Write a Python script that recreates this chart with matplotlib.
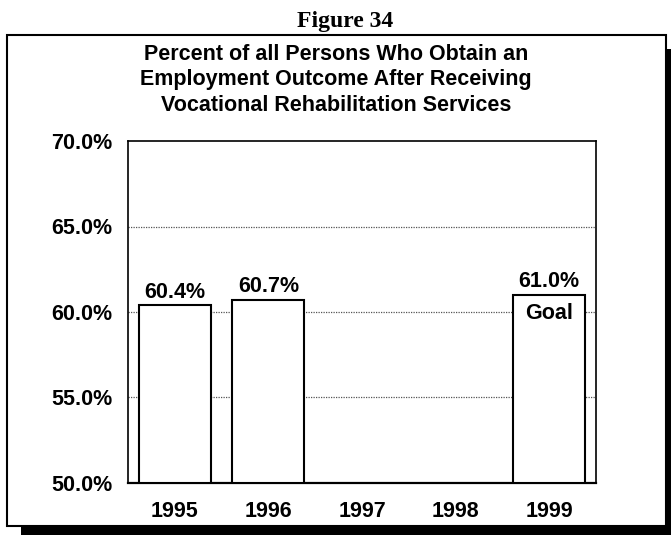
import matplotlib.pyplot as plt
from matplotlib.patches import Rectangle
import numpy as np

years = ['1995', '1996', '1997', '1998', '1999']
values = [60.4, 60.7, None, None, 61.0]
labels = ['60.4%', '60.7%', '', '', '61.0%']
goal_year = '1999'

W, H = 671, 535
fig = plt.figure(figsize=(W / 100, H / 100), dpi=100)
plt.rcParams['font.family'] = ['Liberation Sans', 'DejaVu Sans']

def px(x, y):
    # pixel coords (top-left origin) -> figure fraction
    return x / W, 1 - y / H

# drop shadow and box around the chart
sx, sy = px(21, 49)
fig.patches.append(Rectangle((sx, 0), 1, sy, transform=fig.transFigure,
                             facecolor='black', edgecolor='none', zorder=0))
bx0, by1 = px(7, 35)
bx1, by0 = px(666, 526)
fig.patches.append(Rectangle((bx0, by0), bx1 - bx0, by1 - by0,
                             transform=fig.transFigure,
                             facecolor='white', edgecolor='black', lw=1.5, zorder=1))

fig.text(345 / W, 1 - 22 / H, 'Figure 34', ha='center', va='center',
         family='Liberation Serif', fontweight='bold', fontsize=17)
fig.text(336 / W, 1 - 80 / H,
         'Percent of all Persons Who Obtain an\n'
         'Employment Outcome After Receiving\n'
         'Vocational Rehabilitation Services',
         ha='center', va='center', fontweight='bold', fontsize=15.5,
         linespacing=1.28)

ax = fig.add_axes([128 / W, 1 - 483 / H, (596 - 128) / W, (483 - 141) / H])
ax.set_zorder(2)
ax.patch.set_facecolor('white')

x = np.arange(len(years))
for i, v in enumerate(values):
    if v is None:
        continue
    ax.bar(x[i], v - 50, bottom=50, width=0.77, color='white',
           edgecolor='black', lw=1.5, zorder=3)
    ax.text(x[i], v + 0.15, labels[i], ha='center', va='bottom',
            fontweight='bold', fontsize=15.5, zorder=4)
    if years[i] == goal_year:
        ax.text(x[i], v - 0.45, 'Goal', ha='center', va='top',
                fontweight='bold', fontsize=15.5, zorder=4)

ax.set_xlim(-0.5, 4.5)
ax.set_ylim(50, 70)
ax.set_yticks([50, 55, 60, 65, 70])
ax.set_yticklabels(['%.1f%%' % t for t in [50, 55, 60, 65, 70]],
                   fontweight='bold', fontsize=15.5)
ax.set_xticks(x)
ax.set_xticklabels(years, fontweight='bold', fontsize=15.5)
ax.tick_params(axis='both', length=0)
ax.tick_params(axis='y', pad=11)
ax.tick_params(axis='x', pad=13)

for g in [55, 60, 65]:
    ax.axhline(g, color='#555555', lw=0.9, ls=(0, (1, 1)), zorder=1)

for s in ax.spines.values():
    s.set_linewidth(1.2)
ax.spines['bottom'].set_linewidth(1.6)

fig.savefig('out.png', dpi=100)
